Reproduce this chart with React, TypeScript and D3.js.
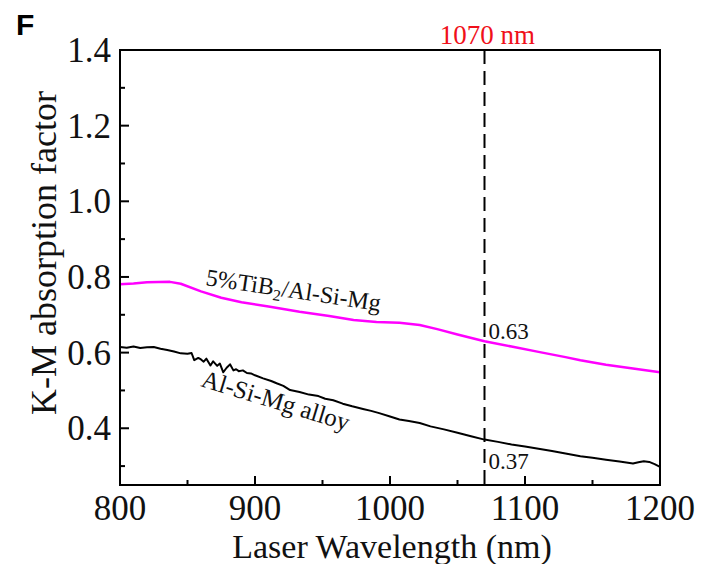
import React from "react";
import * as d3 from "d3";

const tibWave = [800, 810, 820, 837, 845, 860, 875, 890, 910, 933, 955, 973, 990, 1007, 1022, 1035, 1050, 1070, 1090, 1110, 1130, 1141, 1160, 1180, 1200];
const tibVals = [0.781, 0.783, 0.786, 0.787, 0.782, 0.762, 0.745, 0.733, 0.722, 0.708, 0.697, 0.686, 0.681, 0.679, 0.673, 0.662, 0.648, 0.63, 0.616, 0.602, 0.588, 0.58, 0.568, 0.558, 0.548];

const alloyWave = [800, 805, 810, 815, 820, 825, 830, 835, 840, 845, 850, 853, 855, 858, 860, 862, 864, 867, 869, 872, 874, 876.5, 879, 881.5, 884, 886, 888, 891, 894, 897, 900, 906, 912, 916, 921, 926, 933, 940, 947, 952, 958, 965, 972, 980, 986, 992, 1000, 1007, 1014, 1022, 1030, 1040, 1050, 1060, 1070, 1080, 1090, 1100, 1110, 1120, 1130, 1141, 1150, 1160, 1170, 1180, 1184, 1188, 1192, 1196, 1200];
const alloyVals = [0.615, 0.613, 0.616, 0.612, 0.614, 0.615, 0.61, 0.607, 0.603, 0.598, 0.597, 0.599, 0.58, 0.586, 0.582, 0.576, 0.584, 0.566, 0.577, 0.565, 0.571, 0.548, 0.56, 0.569, 0.553, 0.556, 0.551, 0.553, 0.546, 0.545, 0.54, 0.532, 0.525, 0.519, 0.512, 0.501, 0.496, 0.489, 0.485, 0.478, 0.474, 0.465, 0.458, 0.451, 0.446, 0.44, 0.431, 0.423, 0.419, 0.414, 0.405, 0.397, 0.388, 0.379, 0.37, 0.364, 0.357, 0.352, 0.346, 0.34, 0.333, 0.326, 0.322, 0.317, 0.312, 0.307, 0.31, 0.313, 0.311, 0.305, 0.298];

const xMajor = [800, 900, 1000, 1100, 1200];
const xMinor = [850, 950, 1050, 1150];
const yMajor = [0.4, 0.6, 0.8, 1.0, 1.2, 1.4];
const yMinor = [0.3, 0.5, 0.7, 0.9, 1.1, 1.3];

const markWave = 1070;
const markValues = [0.63, 0.37];

const serif = "'Liberation Serif', 'Times New Roman', serif";

export default function App() {
  const left = 120, right = 660, top = 50, bottom = 485;
  const x = d3.scaleLinear().domain([800, 1200]).range([left, right]);
  const y = d3.scaleLinear().domain([0.25, 1.4]).range([bottom, top]);
  const line = d3.line<[number, number]>().x(d => x(d[0])).y(d => y(d[1]));
  const tibPath = line(tibWave.map((w, i) => [w, tibVals[i]]) as [number, number][]) || "";
  const alloyPath = line(alloyWave.map((w, i) => [w, alloyVals[i]]) as [number, number][]) || "";
  const mx = x(markWave);

  return (
    <svg width={702} height={564} style={{ position: "absolute", left: 0, top: 0, background: "#fff" }}>
      <rect x={0} y={0} width={702} height={564} fill="#fff" />
      <text x={16} y={35} fontFamily="'Liberation Sans', Arial, sans-serif" fontWeight="bold" fontSize={30}>F</text>

      {/* curves */}
      <path d={tibPath} fill="none" stroke="#ff00ff" strokeWidth={2.5} strokeLinejoin="round" />
      <path d={alloyPath} fill="none" stroke="#000" strokeWidth={2} strokeLinejoin="round" />

      {/* dashed marker */}
      <line x1={mx} x2={mx} y1={top} y2={bottom} stroke="#000" strokeWidth={2} strokeDasharray="14,7" />
      <text x={mx + 3} y={44} textAnchor="middle" fontFamily={serif} fontSize={27} fill="#f0101a">1070 nm</text>
      <text x={mx + 4} y={y(markValues[0]) - 2} fontFamily={serif} fontSize={23} fill="#111">{markValues[0].toFixed(2)}</text>
      <text x={mx + 4} y={y(markValues[1]) + 29} fontFamily={serif} fontSize={23} fill="#111">{markValues[1].toFixed(2)}</text>

      {/* curve labels */}
      <text transform={`translate(205,285) rotate(8.5)`} fontFamily={serif} fontSize={24} fill="#111">
        5%TiB<tspan fontSize={16} dy={5}>2</tspan><tspan dy={-5}>/Al-Si-Mg</tspan>
      </text>
      <text transform={`translate(200,386) rotate(17)`} fontFamily={serif} fontSize={25} fill="#111">Al-Si-Mg alloy</text>

      {/* frame */}
      <rect x={left} y={top} width={right - left} height={bottom - top} fill="none" stroke="#000" strokeWidth={2} />

      {/* ticks */}
      {xMajor.map(v => (
        <g key={"xM" + v}>
          <line x1={x(v)} x2={x(v)} y1={bottom} y2={bottom - 9} stroke="#000" strokeWidth={2} />
          <text x={x(v)} y={520} textAnchor="middle" fontFamily={serif} fontSize={35} fill="#111">{v}</text>
        </g>
      ))}
      {xMinor.map(v => (
        <line key={"xm" + v} x1={x(v)} x2={x(v)} y1={bottom} y2={bottom - 5} stroke="#000" strokeWidth={2} />
      ))}
      {yMajor.map(v => (
        <g key={"yM" + v}>
          <line x1={left} x2={left + 9} y1={y(v)} y2={y(v)} stroke="#000" strokeWidth={2} />
          <text x={111} y={y(v) + 12} textAnchor="end" fontFamily={serif} fontSize={35} fill="#111">{v.toFixed(1)}</text>
        </g>
      ))}
      {yMinor.map(v => (
        <line key={"ym" + v} x1={left} x2={left + 5} y1={y(v)} y2={y(v)} stroke="#000" strokeWidth={2} />
      ))}

      {/* axis titles */}
      <text x={392} y={558} textAnchor="middle" fontFamily={serif} fontSize={34} fill="#111">Laser Wavelength (nm)</text>
      <text transform={`translate(56,253) rotate(-90)`} textAnchor="middle" fontFamily={serif} fontSize={36} fill="#111">K-M absorption factor</text>
    </svg>
  );
}
